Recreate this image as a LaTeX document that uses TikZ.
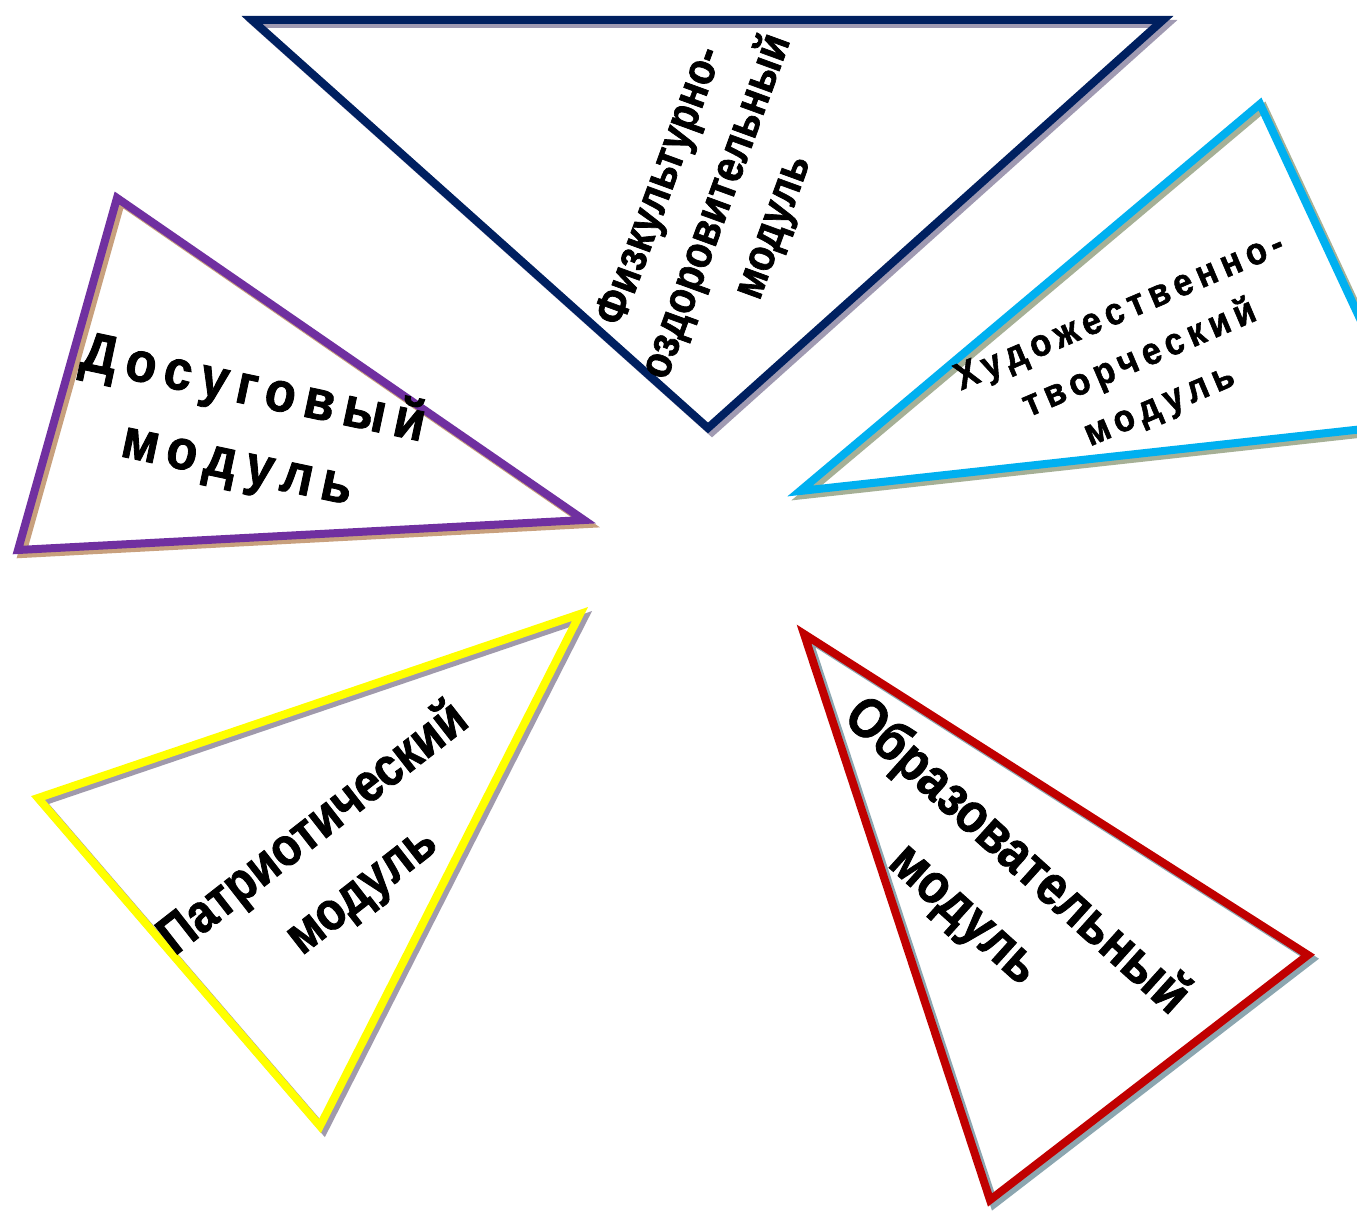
\documentclass[tikz,border=0pt]{standalone}
\usepackage{fontspec}
\newfontfamily\modfont[FakeStretch=0.86, FakeBold=1.5]{Liberation Sans}
\newfontfamily\modspaced[LetterSpace=16, FakeStretch=0.9, FakeBold=1.5]{Liberation Sans}

\definecolor{fizblue}{RGB}{0,32,96}
\definecolor{fizshade}{RGB}{160,154,178}
\definecolor{artcyan}{RGB}{0,176,240}
\definecolor{artshade}{RGB}{166,176,150}
\definecolor{dospurple}{RGB}{112,48,160}
\definecolor{dosshade}{RGB}{200,160,125}
\definecolor{patyellow}{RGB}{255,255,0}
\definecolor{patshade}{RGB}{160,154,172}
\definecolor{obrred}{RGB}{192,0,0}
\definecolor{obrshade}{RGB}{140,166,176}

\begin{document}
\begin{tikzpicture}[x=1pt, y=-1pt,
  edge/.style={line width=8pt, line join=miter},
  drop/.style={edge, transform canvas={shift={(4,4)}}},
  modtext/.style={align=center, inner sep=0pt, text=black}]
\clip (0,0) rectangle (1357,1214);
\fill[white] (0,0) rectangle (1357,1214);

% vertices
\coordinate (fa) at (252,20);
\coordinate (fb) at (1163,20);
\coordinate (fc) at (708,428);
\coordinate (ha) at (1260,104);
\coordinate (hb) at (1409,424);
\coordinate (hc) at (800,491);
\coordinate (da) at (117,198);
\coordinate (db) at (584,520);
\coordinate (dc) at (18,550);
\coordinate (pa) at (580,614);
\coordinate (pb) at (38,798);
\coordinate (pc) at (320,1126);
\coordinate (oa) at (804,634);
\coordinate (ob) at (1308,955);
\coordinate (oc) at (990,1200);

% shadows
\draw[drop, fizshade] (fa) -- (fb) -- (fc) -- cycle;
\draw[drop, artshade] (ha) -- (hb) -- (hc) -- cycle;
\draw[drop, dosshade] (da) -- (db) -- (dc) -- cycle;
\draw[drop, patshade] (pa) -- (pb) -- (pc) -- cycle;
\draw[drop, obrshade] (oa) -- (ob) -- (oc) -- cycle;

% outlines
\draw[edge, fizblue] (fa) -- (fb) -- (fc) -- cycle;
\draw[edge, artcyan] (ha) -- (hb) -- (hc) -- cycle;
\draw[edge, dospurple] (da) -- (db) -- (dc) -- cycle;
\draw[edge, patyellow] (pa) -- (pb) -- (pc) -- cycle;
\draw[edge, obrred] (oa) -- (ob) -- (oc) -- cycle;

% labels
\node[modtext, rotate=70, font={\modfont\bfseries\fontsize{46}{60}\selectfont}] (fiz) at (718,207)
  {Физкультурно-\\оздоровительный\\модуль};
\node[modtext, rotate=23, font={\modspaced\bfseries\fontsize{38}{51}\selectfont}] (art) at (1140,360)
  {Художественно-\\творческий\\модуль};
\node[modtext, rotate=-12, font={\modspaced\bfseries\fontsize{56}{77}\selectfont}] (dos) at (245,428)
  {Досуговый\\модуль};
\node[modtext, rotate=38, font={\modfont\bfseries\fontsize{54}{78}\selectfont}] (pat) at (338,860)
  {Патриотический\\модуль};
\node[modtext, rotate=-42, font={\modfont\bfseries\fontsize{56}{78}\selectfont}] (obr) at (990,886)
  {Образовательный\\модуль};
\end{tikzpicture}
\end{document}
